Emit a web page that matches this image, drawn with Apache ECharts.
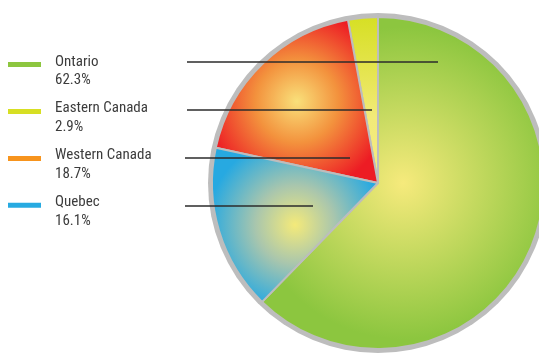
<!DOCTYPE html>
<html>
<head>
<meta charset="utf-8">
<script src="https://cdn.jsdelivr.net/npm/echarts@6/dist/echarts.min.js"></script>
<style>
  html, body { margin: 0; padding: 0; background: #fff; }
  #chart { width: 539px; height: 354px; }
</style>
</head>
<body>
<div id="chart"></div>
<script>
// regions, in legend order
const regions = ["Ontario", "Eastern Canada", "Western Canada", "Quebec"];
const shares = [62.3, 2.9, 18.7, 16.1];

const FONT = "'Roboto Condensed', 'Liberation Sans', sans-serif";
const legendColors = ["#8dc63f", "#d7df23", "#f7941d", "#27aae1"];

// slice fills
const radial = (stops, r) => ({
  type: "radial", x: 0.5, y: 0.5, r: r,
  colorStops: stops.map((c) => ({ offset: c[0], color: c[1] })),
});
const fills = [
  radial([[0, "#f6ea7c"], [1, "#8cc63f"]], 0.55),
  {
    type: "linear", x: 0, y: 0, x2: 0, y2: 1,
    colorStops: [
      { offset: 0, color: "#d6df23" },
      { offset: 0.35, color: "#e6e552" },
      { offset: 0.6, color: "#f2ea78" },
      { offset: 1, color: "#f5ec80" },
    ],
  },
  radial([[0, "#f9e07a"], [0.45, "#f3923d"], [1, "#ed1c24"]], 0.56),
  radial([[0, "#f4ea7a"], [0.45, "#a9c6ad"], [1, "#27a9e1"]], 0.56),
];

// leader lines (left end, right end, height)
const leadStartX = [187, 187, 185, 185];
const leadEndX = [438, 372, 350, 313];
const leadY = [62, 110, 158, 206];

const total = shares.reduce((a, b) => a + b, 0);
const startAngle = 90 - (360 * shares[0]) / total;

const chart = echarts.init(document.getElementById("chart"));

const option = {
  animation: false,
  legend: {
    orient: "vertical",
    left: 8,
    top: 38.5,
    padding: 0,
    itemGap: -2.3,
    itemWidth: 33,
    itemHeight: 5,
    icon: "rect",
    selectedMode: false,
    itemStyle: { borderWidth: 0 },
    data: regions.map((n, i) => ({ name: n, itemStyle: { color: legendColors[i], borderWidth: 0 } })),
    formatter: (name) =>
      "{g|}\n{t|" + name + "}\n{t|" + shares[regions.indexOf(name)].toFixed(1) + "%}",
    textStyle: {
      fontFamily: FONT,
      fontSize: 15,
      color: "#3c3c3c",
      rich: {
        g: { height: 13, lineHeight: 13 },
        t: { fontFamily: FONT, fontSize: 15, lineHeight: 18.5, color: "#3c3c3c", padding: [0, 0, 0, 9] },
      },
    },
  },
  series: [
    {
      // grey rim
      type: "pie",
      silent: true,
      center: [378, 183],
      radius: 170,
      z: 1,
      label: { show: false },
      labelLine: { show: false },
      itemStyle: { color: "#bdbdbd" },
      data: [{ value: 1, name: "rim" }],
    },
    {
      type: "pie",
      center: [378, 183],
      radius: 166,
      z: 2,
      clockwise: false,
      startAngle: startAngle,
      emphasis: { disabled: true },
      itemStyle: { borderColor: "#bdbdbd", borderWidth: 2 },
      label: { show: false },
      labelLine: { show: false },
      data: regions.map((n, i) => ({ name: n, value: shares[i], itemStyle: { color: fills[i] } })),
    },
    {
      // overlay carrying the leader lines above the slices
      type: "pie",
      silent: true,
      center: [378, 183],
      radius: 166,
      z: 3,
      clockwise: false,
      startAngle: startAngle,
      avoidLabelOverlap: false,
      itemStyle: { color: "transparent", borderWidth: 0 },
      label: { show: true, position: "outside", formatter: " ", color: "transparent" },
      labelLine: { show: true, length: 5, length2: 5, lineStyle: { color: "#2b2b2b", width: 1.3 } },
      labelLayout: (p) => {
        const i = p.dataIndex;
        return {
          x: leadStartX[i],
          y: leadY[i],
          hideOverlap: false,
          labelLinePoints: [
            [leadEndX[i], leadY[i]],
            [leadStartX[i], leadY[i]],
            [leadStartX[i], leadY[i]],
          ],
        };
      },
      data: regions.map((n, i) => ({ name: n, value: shares[i] })),
    },
  ],
};

chart.setOption(option);
</script>
</body>
</html>
